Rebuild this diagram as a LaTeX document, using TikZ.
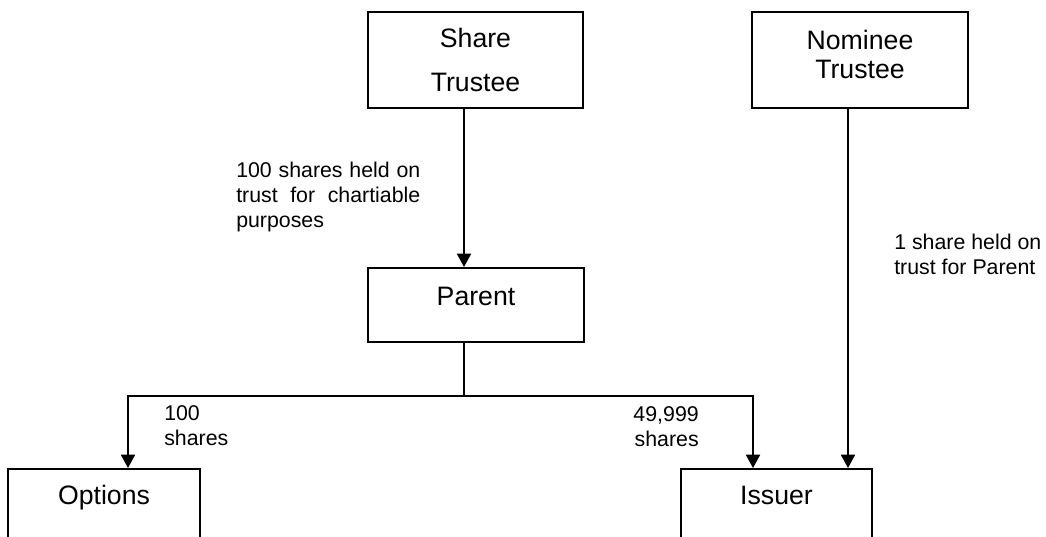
\documentclass[tikz,border=0pt]{standalone}
\usepackage{fontspec}
\setmainfont{Liberation Sans}
\usetikzlibrary{arrows.meta,positioning,calc}

\begin{document}
\begin{tikzpicture}[x=0.75pt, y=-0.75pt,
    tip/.tip={Triangle[width=10.5pt,length=10pt]},
    box/.style={rectangle, draw, line width=1.5pt, inner sep=0pt, minimum width=162pt, font=\fontsize{20}{24}\selectfont},
    twobox/.style={box, minimum height=72pt, align=center},
    onebox/.style={box, anchor=north, text height=27.75pt, text depth=27.75pt},
    note/.style={inner sep=0pt, font=\fontsize{16}{18.75}\selectfont},
    arrow/.style={-tip, line width=1.5pt},
    twoway/.style={tip-tip, line width=1.5pt}]

    \useasboundingbox (0,0) rectangle (1046,536);

    \node[twobox, minimum width=161.25pt, font=\fontsize{20}{33}\selectfont] (share) at (475.5,60) {Share\\Trustee};
    \node[twobox, font=\fontsize{20}{21.75}\selectfont] (nominee) at (860,60) {Nominee\\Trustee\\[-14pt]};
    \node[onebox] (parent) at (476,267) {Parent};
    \node[onebox, minimum width=144pt, text height=26.25pt, text depth=60pt] (options) at (104,468) {Options};
    \node[onebox, minimum width=143.25pt, text height=26.25pt, text depth=60pt] (issuer) at (776.5,468) {Issuer};

    \node[note, text width=138pt, align=justify, anchor=north west] (trustnote) at (236,162)
        {100 shares held on\linebreak trust for chartiable\linebreak purposes};
    \node[note, align=left, anchor=north west] (nomineenote) at (894,234) {1 share held on\\trust for Parent};
    \node[note, align=left, anchor=north west] (optionsnote) at (164,405) {100\\shares};
    \node[note, align=right, anchor=north east] (issuernote) at (699,406) {49,999\\shares};

    \coordinate (fork) at (464,396);
    \coordinate (ldrop) at (128,396);
    \coordinate (rdrop) at (753,396);
    \coordinate (ndrop) at (848,396);

    \draw[arrow] (share.south -| fork) -- (parent.north -| fork);
    \draw[line width=1pt] (parent.south -| fork) -- (fork);
    \draw[twoway] (options.north -| ldrop) -- (ldrop) -- (rdrop) -- (issuer.north -| rdrop);
    \draw[arrow] (nominee.south -| ndrop) -- (issuer.north -| ndrop);
\end{tikzpicture}
\end{document}
